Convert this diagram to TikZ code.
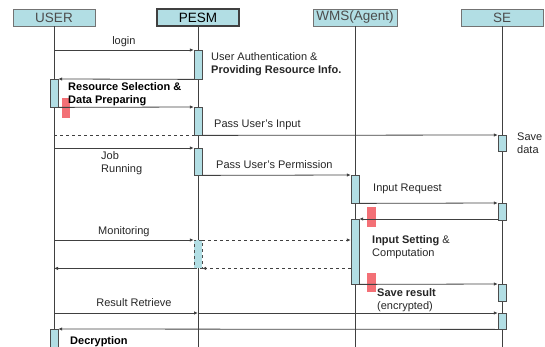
\documentclass[tikz,border=0pt]{standalone}
\usepackage{fontspec}
\setmainfont{Liberation Sans}
\usetikzlibrary{arrows.meta}
\definecolor{actblue}{RGB}{178,222,228}
\definecolor{barred}{RGB}{243,112,118}
\definecolor{linegray}{RGB}{64,64,64}
\newcommand{\dimg}{\fontsize{11}{13}\selectfont}
\tikzstyle{head}=[rectangle, draw=black!55, fill=actblue, minimum width=82pt, minimum height=17pt, inner sep=0pt, font=\fontsize{13.5}{14}\selectfont, text=black!70]
\tikzstyle{act}=[rectangle, anchor=north, draw=black!70, fill=actblue, minimum width=8pt, inner sep=0pt]
\tikzstyle{redbar}=[rectangle, anchor=north, fill=barred, minimum width=8.5pt, inner sep=0pt]
\tikzstyle{life}=[draw=linegray, line width=0.8pt]
\tikzstyle{msg}=[-{Latex[length=4pt,width=3.5pt]}, draw=linegray, line width=0.8pt]
\tikzstyle{txt}=[anchor=west, inner sep=0pt, align=left, font=\dimg, text=black!85]
\tikzstyle{msglabel}=[above, inner sep=0pt, yshift=2.5pt, font=\dimg, text=black!85]

\begin{document}
\begin{tikzpicture}[x=1pt, y=-1pt]
    \useasboundingbox (0,0) rectangle (545,347);

    \node [head] (user) at (54,17.5) {USER};
    \node [head, line width=1.6pt, draw=black!75, text=black] (pesm) at (198,17.5) {PESM};
    \node [head, minimum width=84pt] (wms) at (355,17.5) {WMS(Agent)};
    \node [head] (se) at (502,17.5) {SE};

    \coordinate (userend) at (54,352);
    \coordinate (pesmend) at (198,352);
    \coordinate (wmsend) at (355,352);
    \coordinate (seend) at (502,352);
    \draw [life] (user.south) -- (userend);
    \draw [life] (pesm.south) -- (pesmend);
    \draw [life] (wms.south) -- (wmsend);
    \draw [life] (se.south) -- (seend);

    \node [redbar, minimum height=20pt] (r1) at (66,98) {};
    \node [redbar, minimum height=20pt] (r2) at (371.5,207) {};
    \node [redbar, minimum height=19pt] (r3) at (371.5,273) {};

    \node [act, minimum height=29pt] (p1) at (198,50) {};
    \node [act, minimum height=28pt] (u1) at (54,79) {};
    \node [act, minimum height=28pt] (p2) at (198,107) {};
    \node [act, minimum height=16pt] (s1) at (502,135) {};
    \node [act, minimum height=27pt] (p3) at (198,148) {};
    \node [act, minimum height=28pt] (w1) at (355,175) {};
    \node [act, minimum height=17pt] (s2) at (502,203) {};
    \node [act, minimum height=65pt] (w2) at (355,219) {};
    \node [act, dashed, minimum height=28pt] (p4) at (198,240) {};
    \node [act, minimum height=17pt] (s3) at (502,284) {};
    \node [act, minimum height=16pt] (s4) at (502,313) {};
    \node [act, minimum height=24pt] (u2) at (54,329) {};

    \draw [msg] (user |- p1.north) -- node [msglabel] (login) {login} (p1.north west);
    \draw [msg] (p1.south west) -- (u1.north east);
    \draw [msg] (u1.south east) -- (p2.north west);
    \draw [life, dashed] (user |- p2.south) -- (p2.south west);
    \draw [msg] (p2.south east) -- (s1.north west);
    \draw [msg] (user |- p3.north) -- (p3.north west);
    \draw [msg] (p3.south east) -- (w1.north west);
    \draw [msg] (w1.south east) -- (s2.north west);
    \draw [msg] (s2.south west |- w2.north) -- (w2.north east);
    \draw [msg] (user |- p4.north) -- node [msglabel] (monitor) {Monitoring} (p4.north west);
    \draw [msg, dashed] (p4.north east) -- (w2.west |- p4.north);
    \draw [msg, dashed] (w2.west |- p4.south) -- (p4.south east);
    \draw [msg] (p4.south west) -- (user |- p4.south);
    \draw [msg] (w2.south east) -- (s3.north west);
    \draw [msg] (user |- s4.north) -- (pesm |- s4.north);
    \draw [msg] (pesm |- s4.north) -- (s4.north west);
    \draw [msg] (s4.south west) -- (u2.north east);

    \node [txt] (auth) at (211,64.5) {User Authentication \&\\\textbf{Providing Resource Info.}};
    \node [txt, font=\dimg\bfseries, text=black] (resel) at (68,94.5) {Resource Selection \&\\Data Preparing};
    \node [txt] (passin) at (214,124.5) {Pass User's Input};
    \node [txt] (savedata) at (517,143) {Save\\data};
    \node [txt] (job) at (101,163) {Job\\Running};
    \node [txt] (passperm) at (216,164.5) {Pass User's Permission};
    \node [txt] (inreq) at (373,188.5) {Input Request};
    \node [txt] (inset) at (372,247.5) {\textbf{Input Setting} \&\\Computation};
    \node [txt] (saveres) at (377,300.5) {\textbf{Save result}\\(encrypted)};
    \node [font=\dimg, text=black!85, inner sep=0pt] (retrieve) at (134,302.5) {Result Retrieve};
    \node [txt, font=\dimg\bfseries, text=black] (decrypt) at (70,342) {Decryption};
\end{tikzpicture}
\end{document}
